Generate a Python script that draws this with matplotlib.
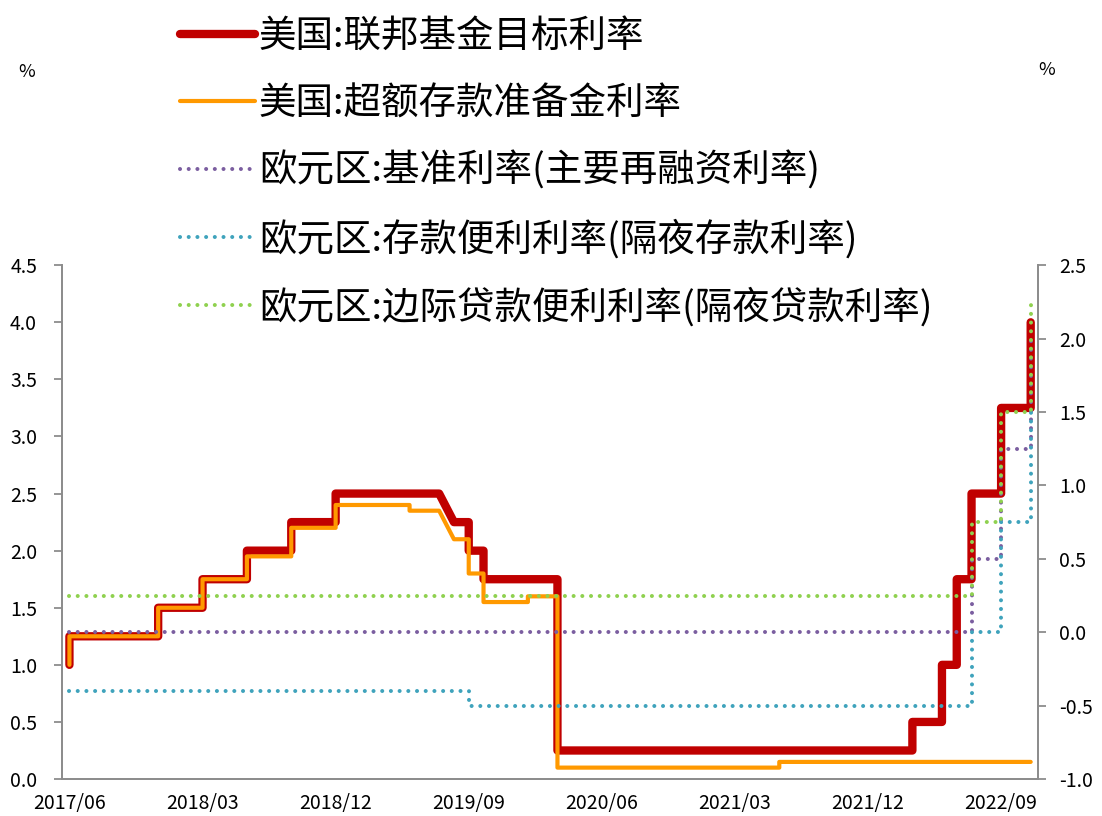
import pandas as pd
import matplotlib
matplotlib.use('Agg')
import matplotlib.pyplot as plt

plt.rcParams['font.family'] = ['Noto Sans CJK SC', 'DejaVu Sans']

# month slots (Excel-style monthly date axis) and rates, vertex by vertex
fed_months = ['2017-06', '2017-06', '2017-12', '2017-12', '2018-03', '2018-03',
              '2018-06', '2018-06', '2018-09', '2018-09', '2018-12', '2018-12',
              '2019-07', '2019-08', '2019-09', '2019-09', '2019-10', '2019-10',
              '2020-03', '2020-03', '2022-03', '2022-03', '2022-05', '2022-05',
              '2022-06', '2022-06', '2022-07', '2022-07', '2022-09', '2022-09',
              '2022-11', '2022-11']
fed_rate = [1.0, 1.25, 1.25, 1.5, 1.5, 1.75,
            1.75, 2.0, 2.0, 2.25, 2.25, 2.5,
            2.5, 2.25, 2.25, 2.0, 2.0, 1.75,
            1.75, 0.25, 0.25, 0.5, 0.5, 1.0,
            1.0, 1.75, 1.75, 2.5, 2.5, 3.25,
            3.25, 4.0]

ioer_months = ['2017-06', '2017-06', '2017-12', '2017-12', '2018-03', '2018-03',
               '2018-06', '2018-06', '2018-09', '2018-09', '2018-12', '2018-12',
               '2019-05', '2019-05', '2019-07', '2019-08', '2019-09', '2019-09',
               '2019-10', '2019-10', '2020-01', '2020-01', '2020-03', '2020-03',
               '2021-06', '2021-06', '2022-11']
ioer_rate = [1.0, 1.25, 1.25, 1.5, 1.5, 1.75,
             1.75, 1.95, 1.95, 2.20, 2.20, 2.40,
             2.40, 2.35, 2.35, 2.10, 2.10, 1.80,
             1.80, 1.55, 1.55, 1.60, 1.60, 0.10,
             0.10, 0.15, 0.15]

mro_months = ['2017-06', '2022-07', '2022-07', '2022-09', '2022-09', '2022-11', '2022-11']
mro_rate = [0.0, 0.0, 0.5, 0.5, 1.25, 1.25, 2.0]

dep_months = ['2017-06', '2019-09', '2019-09', '2022-07', '2022-07', '2022-09', '2022-09',
              '2022-11', '2022-11']
dep_rate = [-0.4, -0.4, -0.5, -0.5, 0.0, 0.0, 0.75, 0.75, 1.5]

mlf_months = ['2017-06', '2022-07', '2022-07', '2022-09', '2022-09', '2022-11', '2022-11']
mlf_rate = [0.25, 0.25, 0.75, 0.75, 1.5, 1.5, 2.25]

tick_months = ['2017/06', '2018/03', '2018/12', '2019/09', '2020/06', '2021/03', '2021/12', '2022/09']

labels = ['美国:联邦基金目标利率', '美国:超额存款准备金利率', '欧元区:基准利率(主要再融资利率)',
          '欧元区:存款便利利率(隔夜存款利率)', '欧元区:边际贷款便利利率(隔夜贷款利率)']

start = pd.Period('2017-06', 'M')


def slot(months):
    return [(pd.Period(m.replace('/', '-'), 'M') - start).n for m in months]


fig = plt.figure(figsize=(11.02, 8.16), dpi=100)
ax = fig.add_axes([0.0563, 0.0453, 0.8857, 0.6297])
ax2 = ax.twinx()

red, = ax.plot(slot(fed_months), fed_rate, color='#C00000', lw=6,
               solid_capstyle='round', solid_joinstyle='round')
orange, = ax.plot(slot(ioer_months), ioer_rate, color='#FF9900', lw=3,
                  solid_capstyle='round', solid_joinstyle='round')

dot = (0, (0.01, 2.15))
kw = dict(lw=2.9, ls=dot, dash_capstyle='round')
purple, = ax2.plot(slot(mro_months), mro_rate, color='#7B5EA0', **kw)
teal, = ax2.plot(slot(dep_months), dep_rate, color='#3FA3BC', **kw)
green, = ax2.plot(slot(mlf_months), mlf_rate, color='#8FD14F', **kw)

ax.set_xlim(-0.5, 65.5)
ax.set_ylim(0, 4.5)
ax2.set_ylim(-1.0, 2.5)
ax.set_yticks([i * 0.5 for i in range(10)])
ax2.set_yticks([-1.0 + i * 0.5 for i in range(8)])
ax.yaxis.set_major_formatter(matplotlib.ticker.FormatStrFormatter('%.1f'))
ax2.yaxis.set_major_formatter(matplotlib.ticker.FormatStrFormatter('%.1f'))
ax.set_xticks(slot(tick_months))
ax.set_xticklabels(tick_months)

spine_col = '#8C8C8C'
for a in (ax, ax2):
    a.spines['top'].set_visible(False)
    for s in ('left', 'right', 'bottom'):
        a.spines[s].set_color(spine_col)
        a.spines[s].set_linewidth(1.3)
    a.tick_params(axis='y', colors=spine_col, labelcolor='black', length=6,
                  width=1.3, labelsize=14)
ax.tick_params(axis='y', pad=12)
ax2.tick_params(axis='y', pad=9)
ax.tick_params(axis='x', length=0, labelsize=14, pad=10)

fig.text(27 / 1102, 1 - 72 / 816, '%', fontsize=13, ha='center', va='center')
fig.text(1047 / 1102, 1 - 70 / 816, '%', fontsize=13, ha='center', va='center')

fig.legend([red, orange, purple, teal, green], labels, loc='upper left',
           bbox_to_anchor=(180 / 1102, 1 - 17 / 816), frameon=False, fontsize=27,
           handlelength=2.0, handletextpad=0.1, labelspacing=0.76,
           borderpad=0, borderaxespad=0)

fig.savefig('out.png', dpi=100)
